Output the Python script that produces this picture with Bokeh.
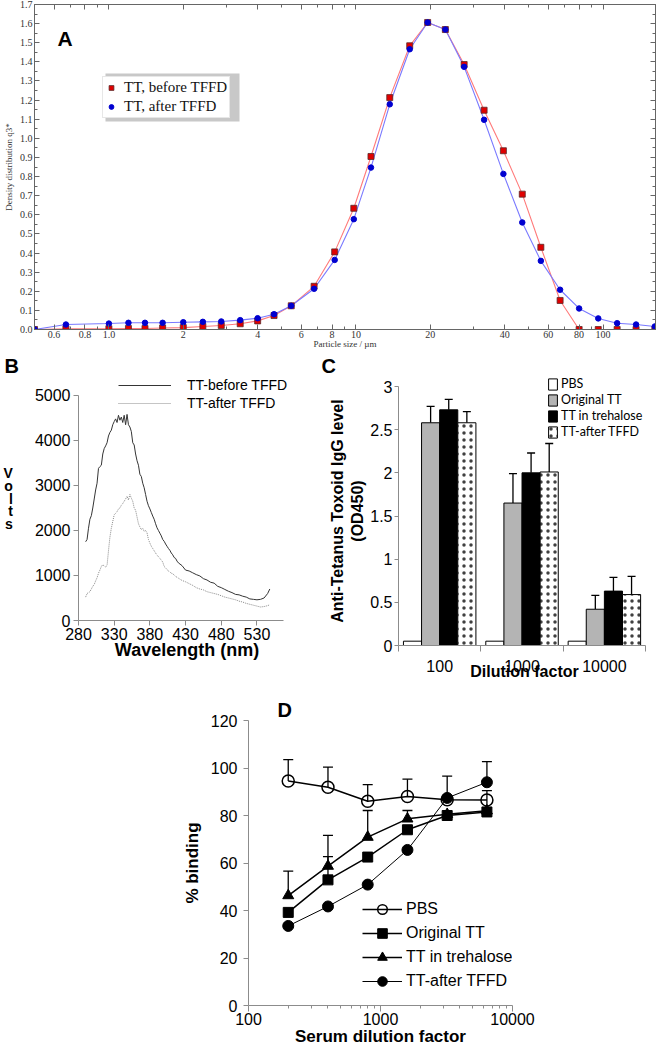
from bokeh.plotting import figure
from bokeh.layouts import column, row
from bokeh.models import (Range1d, FixedTicker, CustomJSTickFormatter, LinearAxis, LogAxis,
                          Legend, LegendItem, Label, Whisker, TeeHead, ColumnDataSource, BoxAnnotation)
from bokeh.embed import file_html
from bokeh.resources import INLINE

SANS = "Liberation Sans"
SERIF = "Liberation Serif"

# ---------------- Panel A: particle size distribution ----------------
particle_size_um = [0.5, 0.67, 1.0, 1.2, 1.4, 1.65, 2.0, 2.4, 2.85, 3.4, 4.0, 4.66, 5.47, 6.77,
                    8.2, 9.8, 11.5, 13.7, 16.5, 19.5, 23.0, 27.4, 33.0, 39.5, 47.1, 56.0, 67.0,
                    80.0, 95.6, 114.0, 136.0, 162.0]
q3_before_tffd = [0.0, 0.004, 0.004, 0.005, 0.005, 0.008, 0.010, 0.016, 0.021, 0.030, 0.045,
                  0.073, 0.124, 0.226, 0.406, 0.634, 0.905, 1.213, 1.484, 1.606, 1.569, 1.386,
                  1.147, 0.935, 0.708, 0.430, 0.152, 0.0, 0.0, 0.0, 0.0, 0.0]
q3_after_tffd = [0.0, 0.026, 0.031, 0.035, 0.035, 0.035, 0.038, 0.040, 0.042, 0.049, 0.059,
                 0.080, 0.124, 0.213, 0.364, 0.577, 0.847, 1.178, 1.466, 1.606, 1.569, 1.374,
                 1.097, 0.814, 0.560, 0.359, 0.208, 0.110, 0.058, 0.033, 0.026, 0.016]
a_x_major = [0.6, 0.8, 1.0, 2, 4, 6, 8, 10, 20, 40, 60, 80, 100]
a_x_minor = [0.7, 0.9, 3, 5, 7, 9, 30, 50, 70, 90]
a_y_major = [0.0, 0.1, 0.2, 0.3, 0.4, 0.5, 0.6, 0.7, 0.8, 0.9, 1.0, 1.1, 1.2, 1.3, 1.4, 1.5, 1.6, 1.7]
a_y_minor = [0.05, 0.15, 0.25, 0.35, 0.45, 0.55, 0.65, 0.75, 0.85, 0.95, 1.05, 1.15, 1.25,
             1.35, 1.45, 1.55, 1.65]

# ---------------- Panel B: fluorescence spectra ----------------
wavelength_nm = [290, 292, 294, 296, 298, 300, 302, 304, 306, 308, 310, 312, 314, 316, 318, 320,
                 322, 324, 326, 328, 330, 332, 334, 336, 338, 340, 342, 344, 346, 348, 350, 352,
                 354, 356, 358, 360, 362, 364, 366, 368, 370, 372, 374, 376, 378, 380, 382, 384,
                 386, 388, 390, 392, 394, 396, 398, 400, 402, 404, 406, 408, 410, 412, 414, 416,
                 418, 420, 425, 430, 435, 440, 445, 450, 455, 460, 465, 470, 475, 480, 485, 490,
                 495, 500, 505, 510, 515, 520, 525, 530, 535, 540, 545, 548]
volts_before_tffd = [1750, 1800, 2050, 2250, 2330, 2500, 2700, 2900, 3050, 3380, 3420, 3450, 3700,
                     3820, 3880, 3950, 4100, 4180, 4230, 4350, 4420, 4480, 4400, 4560, 4450, 4520,
                     4400, 4560, 4350, 4580, 4350, 4300, 4200, 3950, 3900, 3700, 3550, 3450, 3250,
                     3200, 3050, 2950, 2800, 2650, 2550, 2480, 2400, 2320, 2250, 2150, 2060, 2000,
                     1940, 1880, 1800, 1760, 1700, 1650, 1600, 1560, 1500, 1460, 1400, 1380, 1320,
                     1280, 1220, 1120, 1100, 1060, 1020, 990, 930, 900, 850, 830, 760, 730, 690,
                     650, 620, 580, 570, 540, 520, 480, 470, 460, 470, 500, 600, 700]
volts_after_tffd = [520, 600, 620, 640, 700, 760, 800, 880, 950, 1050, 1120, 1200, 1240, 1210,
                    1190, 1220, 1550, 1850, 2050, 2200, 2350, 2380, 2420, 2480, 2500, 2560, 2600,
                    2650, 2700, 2760, 2680, 2800, 2720, 2650, 2500, 2450, 2300, 2150, 2080, 2020,
                    2050, 1980, 2000, 1950, 1800, 1720, 1650, 1600, 1550, 1500, 1450, 1420, 1380,
                    1340, 1300, 1200, 1170, 1130, 1100, 1080, 1050, 1040, 1010, 980, 960, 940,
                    890, 860, 820, 780, 730, 700, 680, 640, 620, 600, 580, 550, 520, 500, 480,
                    460, 430, 410, 380, 360, 340, 320, 300, 310, 330, 350]
b_x_ticks = [280, 330, 380, 430, 480, 530]
b_y_ticks = [0, 1000, 2000, 3000, 4000, 5000]

# ---------------- Panel C: IgG levels ----------------
dilution_labels = ["100", "1000", "10000"]
c_series = ["PBS", "Original TT", "TT in trehalose", "TT-after TFFD"]
igg_pbs = [0.05, 0.05, 0.05]
igg_original = [2.58, 1.65, 0.42]
igg_original_err = [0.19, 0.34, 0.16]
igg_trehalose = [2.73, 2.00, 0.63]
igg_trehalose_err = [0.12, 0.23, 0.16]
igg_after = [2.58, 2.01, 0.59]
igg_after_err = [0.13, 0.33, 0.21]
c_y_ticks = [0, 0.5, 1, 1.5, 2, 2.5, 3]

# ---------------- Panel D: % binding ----------------
serum_dilution = [200, 400, 800, 1600, 3200, 6400]
bind_pbs = [94.5, 91.9, 86.0, 88.0, 86.6, 86.5]
bind_pbs_err = [9.0, 8.5, 7.0, 7.3, 10.0, 0.0]
bind_original = [39.2, 52.9, 62.5, 74.0, 80.0, 81.5]
bind_original_err = [0.0, 9.8, 0.0, 0.0, 0.0, 9.0]
bind_trehalose = [46.3, 58.7, 70.9, 78.6, 80.5, 82.0]
bind_trehalose_err = [10.3, 12.9, 11.2, 3.5, 0.0, 0.0]
bind_after = [33.5, 41.7, 50.9, 65.5, 87.4, 94.0]
bind_after_err = [0.0, 0.0, 0.0, 0.0, 0.0, 8.7]
d_y_ticks = [0, 20, 40, 60, 80, 100, 120]
d_x_major = [100, 1000, 10000]
d_x_minor = [200, 300, 400, 500, 600, 700, 800, 900, 2000, 3000, 4000, 5000, 6000, 7000, 8000, 9000]


def mkfig(**kw):
    kw.update(output_backend="svg", toolbar_location=None)
    try:
        return figure(frame_align=False, **kw)
    except Exception:
        return figure(**kw)


def excel_axis(ax, size="16px"):
    ax.axis_line_color = "#8c8c8c"
    ax.major_tick_line_color = "#8c8c8c"
    ax.minor_tick_line_color = "#8c8c8c"
    ax.major_tick_in = 0
    ax.major_tick_out = 5
    ax.minor_tick_in = 0
    ax.minor_tick_out = 0
    ax.major_label_text_font = SANS
    ax.major_label_text_font_size = size
    ax.major_label_text_color = "#000000"
    ax.axis_label_text_font = SANS
    ax.axis_label_text_font_style = "bold"
    ax.axis_label_text_color = "#000000"


def panel_title(p, text, offset):
    p.title.text = text
    p.title.align = "left"
    p.title.offset = offset
    p.title.standoff = 0
    p.title.vertical_align = "bottom"
    p.title.text_font = SANS
    p.title.text_font_style = "bold"
    p.title.text_font_size = "20px"
    p.title.text_color = "#000000"


# ================= Panel A =================
pA = mkfig(width=657, height=352, x_axis_type="log", x_range=Range1d(0.5, 163),
           y_range=Range1d(0, 1.7),
           min_border_left=32, min_border_right=2, min_border_top=4, min_border_bottom=23)
pA.grid.visible = False
pA.outline_line_color = "#666666"

pA.line(particle_size_um, q3_before_tffd, line_color="#ff7a7a", line_width=1.1)
pA.line(particle_size_um, q3_after_tffd, line_color="#7a7aff", line_width=1.1)
sb = pA.scatter(particle_size_um, q3_before_tffd, marker="square", size=6,
                fill_color="#e00000", line_color="#5a2a2a", line_width=0.8)
sa = pA.scatter(particle_size_um, q3_after_tffd, marker="circle", size=5.5,
                fill_color="#0000d0", line_color="#0000d0")

a_fmt_x = CustomJSTickFormatter(code="""
if (Math.abs(tick - 1) < 1e-9) return '1.0';
if (tick < 1) return tick.toFixed(1);
return tick.toFixed(0);""")
a_fmt_y = CustomJSTickFormatter(code="return tick.toFixed(1);")
blank = CustomJSTickFormatter(code="return '';")


def a_axis(ax):
    ax.axis_line_color = "#666666"
    ax.major_tick_line_color = "#666666"
    ax.minor_tick_line_color = "#666666"
    ax.major_tick_in = 5
    ax.major_tick_out = 0
    ax.minor_tick_in = 3
    ax.minor_tick_out = 0
    ax.major_label_text_font = SERIF
    ax.major_label_text_font_size = "10px"
    ax.major_label_text_color = "#333333"
    ax.major_label_standoff = 2
    ax.axis_label_text_font = SERIF
    ax.axis_label_text_font_size = "9px"
    ax.axis_label_text_font_style = "normal"
    ax.axis_label_text_color = "#333333"


xa = pA.xaxis[0]
xa.ticker = FixedTicker(ticks=a_x_major, minor_ticks=a_x_minor)
xa.formatter = a_fmt_x
a_axis(xa)
xa.major_label_standoff = 1
xa.axis_label = "Particle size / \u00b5m"
xa.axis_label_standoff = -2

ya = pA.yaxis[0]
ya.ticker = FixedTicker(ticks=a_y_major, minor_ticks=a_y_minor)
ya.formatter = a_fmt_y
a_axis(ya)
ya.axis_label = "Density distribution q3*"
ya.axis_label_standoff = 3

top_ax = LogAxis(ticker=FixedTicker(ticks=a_x_major, minor_ticks=a_x_minor), formatter=blank)
a_axis(top_ax)
top_ax.major_label_text_font_size = "0px"
top_ax.major_label_standoff = 0
pA.add_layout(top_ax, "above")
right_ax = LinearAxis(ticker=FixedTicker(ticks=a_y_major, minor_ticks=a_y_minor), formatter=blank)
a_axis(right_ax)
right_ax.major_label_text_font_size = "0px"
right_ax.major_label_standoff = 0
pA.add_layout(right_ax, "right")

pA.add_layout(BoxAnnotation(left=71, right=205, top=256, bottom=208, left_units="screen",
                            right_units="screen", top_units="screen", bottom_units="screen",
                            fill_color="#c8c8c8", fill_alpha=1.0, line_color=None))
legA = Legend(items=[LegendItem(label="TT, before TFFD", renderers=[sb]),
                     LegendItem(label="TT, after TFFD", renderers=[sa])],
              location=(68, 211), padding=2, margin=0, spacing=2, glyph_width=12,
              glyph_height=17, label_height=17, label_standoff=7, label_text_font=SERIF,
              label_text_font_size="15px", label_text_color="#111111",
              border_line_color="#d0d0d0", background_fill_color="white", background_fill_alpha=1.0)
pA.add_layout(legA)
pA.add_layout(Label(x=23, y=291, x_units="screen", y_units="screen", text="A", text_font=SANS,
                    text_font_style="bold", text_font_size="21px", text_color="#000000",
                    text_baseline="alphabetic"))

# ================= Panel B =================
pB = mkfig(width=320, height=338, x_range=Range1d(280, 584), y_range=Range1d(0, 5422),
           min_border_left=77, min_border_right=25, min_border_top=24, min_border_bottom=70)
pB.grid.visible = False
pB.outline_line_color = None
rb1 = pB.line(wavelength_nm, volts_before_tffd, line_color="#353535", line_width=1)
rb2 = pB.line(wavelength_nm, volts_after_tffd, line_color="#8a8a8a", line_width=1, line_dash="1 1")
bx, by = pB.xaxis[0], pB.yaxis[0]
excel_axis(bx)
excel_axis(by)
bx.ticker = FixedTicker(ticks=b_x_ticks)
bx.bounds = (280, 567)
by.ticker = FixedTicker(ticks=b_y_ticks)
by.bounds = (0, 5000)
bx.major_label_standoff = 2
by.major_label_standoff = 3
bx.axis_label = "Wavelength (nm)"
bx.axis_label_text_font_size = "18px"
bx.axis_label_standoff = -3
by.axis_label = "V\no\nl\nt\ns"
by.axis_label_orientation = "horizontal"
by.axis_label_text_font_size = "14px"
by.axis_label_text_line_height = 0.8
by.axis_label_standoff = 19
legB = Legend(items=[LegendItem(label="TT-before TFFD", renderers=[rb1]),
                     LegendItem(label="TT-after TFFD", renderers=[rb2])],
              location=(40, 208), padding=0, margin=0, spacing=0, glyph_width=53,
              glyph_height=18, label_height=18, label_standoff=16, label_text_font=SANS,
              label_text_font_size="14px", label_text_color="#000000",
              border_line_alpha=0, background_fill_alpha=0)
pB.add_layout(legB)
panel_title(pB, "B", -74)

# ================= Panel C =================
pC = mkfig(width=337, height=338, x_range=Range1d(0, 3.06), y_range=Range1d(0, 3.116),
           min_border_left=78, min_border_right=7, min_border_top=24, min_border_bottom=45)
pC.grid.visible = False
pC.outline_line_color = None
group_x = [i + 0.5 for i in range(len(dilution_labels))]
offsets = [-0.33, -0.11, 0.11, 0.33]
bar_w = 0.22
c_values = [igg_pbs, igg_original, igg_trehalose, igg_after]
c_errors = [None, igg_original_err, igg_trehalose_err, igg_after_err]
c_fill = ["white", "#b4b4b4", "black", "white"]
c_items = []
for k in range(4):
    xs = [g + offsets[k] for g in group_x]
    kw = {}
    if k == 3:
        kw = dict(hatch_pattern="dot", hatch_color="black", hatch_scale=7, hatch_weight=0.5,
                  hatch_alpha=0.75)
    r = pC.vbar(x=xs, top=c_values[k], width=bar_w, bottom=0, fill_color=c_fill[k],
                line_color="black", line_width=1, **kw)
    c_items.append(LegendItem(label=c_series[k], renderers=[r]))
    if c_errors[k] is not None:
        src = ColumnDataSource(dict(x=xs, lo=c_values[k],
                                    hi=[v + e for v, e in zip(c_values[k], c_errors[k])]))
        pC.add_layout(Whisker(source=src, base="x", lower="lo", upper="hi", dimension="height",
                              line_color="black", line_width=1.3, lower_head=None,
                              upper_head=TeeHead(size=8, line_color="black", line_width=1.3)))
cx = pC.xaxis[0]
excel_axis(cx)
cx.bounds = (0, 3)
cx.ticker = FixedTicker(ticks=group_x, minor_ticks=list(range(len(dilution_labels) + 1)))
cx.formatter = CustomJSTickFormatter(args=dict(labels=dilution_labels),
                                     code="return labels[Math.floor(tick)];")
cx.major_tick_out = 0
cx.minor_tick_out = 6
cx.major_label_standoff = 8
cx.axis_label = "Dilution factor"
cx.axis_label_text_font_size = "16px"
cx.axis_label_standoff = -12
cy = pC.yaxis[0]
excel_axis(cy)
cy.bounds = (0, 3)
cy.ticker = FixedTicker(ticks=c_y_ticks)
cy.formatter = CustomJSTickFormatter(code="return String(Math.round(tick*10)/10);")
cy.major_tick_out = 4
cy.major_label_standoff = 2
cy.axis_label = "Anti-Tetanus Toxoid IgG level\n(OD450)"
cy.axis_label_text_font_size = "16px"
cy.axis_label_standoff = 1
legC = Legend(items=c_items, location=(149, 206), padding=0, margin=0, spacing=1,
              glyph_width=11, glyph_height=14, label_height=14, label_standoff=3,
              label_text_font="Lato", label_text_font_size="12.5px", label_text_color="#000000",
              border_line_alpha=0, background_fill_alpha=0)
pC.add_layout(legC)
panel_title(pC, "C", -77)

# ================= Panel D =================
pD = mkfig(width=657, height=360, x_axis_type="log", x_range=Range1d(100, 10000),
           y_range=Range1d(0, 120),
           min_border_left=248, min_border_right=145, min_border_top=30, min_border_bottom=45)
pD.grid.visible = False
pD.outline_line_color = None

d_series = [
    ("PBS", bind_pbs, bind_pbs_err, "circle", 12, None, 1.5),
    ("Original TT", bind_original, bind_original_err, "square", 10, "black", 1.5),
    ("TT in trehalose", bind_trehalose, bind_trehalose_err, "triangle", 11, "black", 1.5),
    ("TT-after TFFD", bind_after, bind_after_err, "circle", 11, "black", 1.0),
]
line_rs = []
for name, vals, errs, mk, sz, fill, lw in d_series:
    line_rs.append(pD.line(serum_dilution, vals, line_color="black", line_width=lw))
for name, vals, errs, mk, sz, fill, lw in d_series:
    keep = [i for i, e in enumerate(errs) if e > 0]
    src = ColumnDataSource(dict(x=[serum_dilution[i] for i in keep],
                                lo=[vals[i] for i in keep],
                                hi=[vals[i] + errs[i] for i in keep]))
    pD.add_layout(Whisker(source=src, base="x", lower="lo", upper="hi", dimension="height",
                          line_color="black", line_width=1.3, lower_head=None,
                          upper_head=TeeHead(size=10, line_color="black", line_width=1.3)))
d_items = []
for (name, vals, errs, mk, sz, fill, lw), lr in zip(d_series, line_rs):
    if fill is None:
        sr = pD.scatter(serum_dilution, vals, marker=mk, size=sz, fill_alpha=0,
                        line_color="black", line_width=1.5)
    else:
        sr = pD.scatter(serum_dilution, vals, marker=mk, size=sz, fill_color=fill,
                        line_color="black", line_width=1)
    d_items.append(LegendItem(label=name, renderers=[lr, sr]))

dx = pD.xaxis[0]
excel_axis(dx)
dx.ticker = FixedTicker(ticks=d_x_major, minor_ticks=d_x_minor)
dx.formatter = CustomJSTickFormatter(code="return Math.round(tick).toString();")
dx.major_tick_out = 6
dx.minor_tick_out = 3
dx.major_label_standoff = 1
dx.axis_label = "Serum dilution factor"
dx.axis_label_text_font_size = "17px"
dx.axis_label_standoff = -1
dy = pD.yaxis[0]
excel_axis(dy)
dy.ticker = FixedTicker(ticks=d_y_ticks)
dy.major_label_standoff = 6
dy.axis_label = "% binding"
dy.axis_label_text_font_size = "17px"
dy.axis_label_standoff = 6
legD = Legend(items=d_items, location=(114, 12), padding=0, margin=0, spacing=0,
              glyph_width=40, glyph_height=24, label_height=24, label_standoff=4,
              label_text_font=SANS, label_text_font_size="16px", label_text_color="#000000",
              border_line_alpha=0, background_fill_alpha=0)
pD.add_layout(legD)
panel_title(pD, "D", 29)

layout = column(pA, row(pB, pC), pD)
open("out.html", "w").write(file_html(layout, INLINE))
